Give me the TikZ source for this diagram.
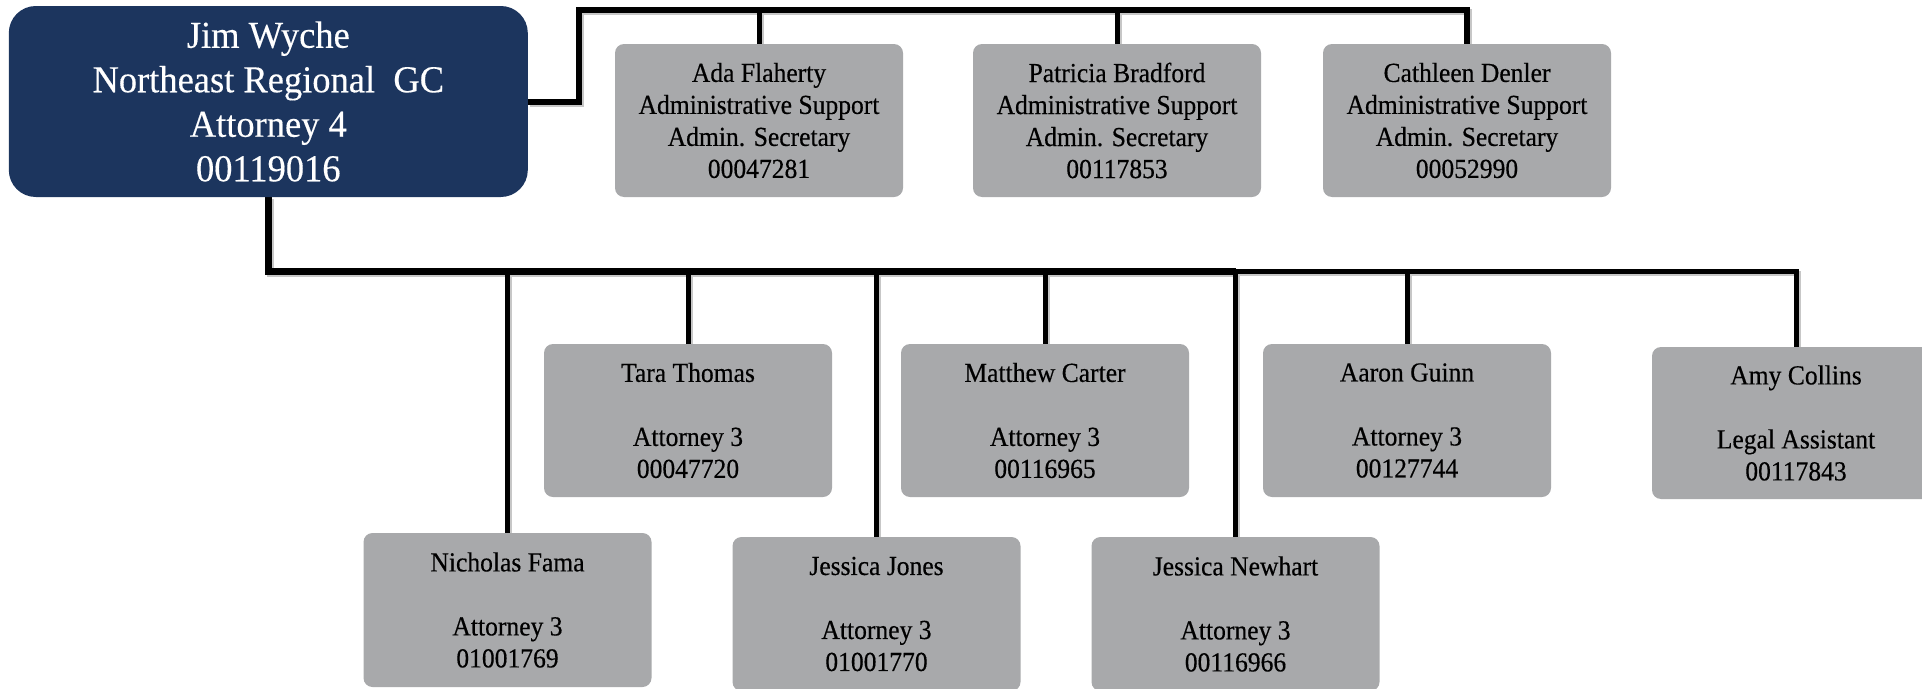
\documentclass[tikz,border=0pt]{standalone}
\usepackage{fontspec}
\setmainfont{Liberation Serif}
\newfontfamily\boxfont[FakeStretch=0.93,FakeBold=0.4]{Liberation Serif}
\newfontfamily\headfont[FakeStretch=0.96,FakeBold=0.3]{Liberation Serif}
\usetikzlibrary{backgrounds}
\definecolor{navy}{HTML}{1C355E}
\definecolor{boxgray}{HTML}{A8A9AB}
\tikzset{
  gbox/.style={fill=boxgray, rounded corners=9pt, minimum width=288pt, minimum height=153pt,
    inner sep=0pt, align=center, font=\boxfont\fontsize{27.5}{32}\selectfont, text=black},
  headbox/.style={fill=navy, rounded corners=27pt, minimum width=519pt, minimum height=191pt,
    inner sep=0pt, align=center, font=\headfont\fontsize{38}{44.5}\selectfont, text=white},
  conn/.style={draw=black, line width=5pt},
  thickconn/.style={draw=black, line width=7pt},
}
\newcommand\drawconns[1]{%
  \draw[conn,#1,line width=6pt] (Jim.east) -| (topc) -| (Cathleen.north);
  \foreach \n in {Ada,Patricia} \draw[conn,#1] (\n.north |- topc) -- (\n.north);
  \draw[thickconn,#1] (Jim.south) |- (Newhart.north |- busc);
  \draw[conn,#1] (Newhart.north |- busc) -| (Amy.north);
  \foreach \n in {Nicholas,Tara,Jones,Matthew,Newhart,Aaron} \draw[conn,#1] (\n.north |- busc) -- (\n.north);
}
\begin{document}
\begin{tikzpicture}[x=1pt,y=-1pt]
\useasboundingbox (0,0) rectangle (1922,688);
\node[headbox] (Jim) at (268.3,101.5) {Jim Wyche\\Northeast Regional\ \ GC\\Attorney 4\\00119016};
\node[gbox] (Ada) at (759,120.5) {Ada Flaherty\\Administrative Support\\Admin. Secretary\\00047281};
\node[gbox] (Patricia) at (1117,120.5) {Patricia Bradford\\Administrative Support\\Admin. Secretary\\00117853};
\node[gbox] (Cathleen) at (1467,120.5) {Cathleen Denler\\Administrative Support\\Admin. Secretary\\00052990};
\node[gbox] (Tara) at (688,420.5) {Tara Thomas\\[32pt]Attorney 3\\00047720};
\node[gbox] (Matthew) at (1045,420.5) {Matthew Carter\\[32pt]Attorney 3\\00116965};
\node[gbox] (Aaron) at (1407,420.5) {Aaron Guinn\\[32pt]Attorney 3\\00127744};
\node[gbox, minimum height=152pt] (Amy) at (1796,423) {Amy Collins\\[32pt]Legal Assistant\\00117843};
\node[gbox, minimum height=154pt] (Nicholas) at (507.5,610) {Nicholas Fama\\[32pt]Attorney 3\\01001769};
\node[gbox, minimum height=154pt] (Jones) at (876.5,614) {Jessica Jones\\[32pt]Attorney 3\\01001770};
\node[gbox, minimum height=154pt] (Newhart) at (1235.5,614) {Jessica Newhart\\[32pt]Attorney 3\\00116966};
\coordinate (topc) at (579,10);
\coordinate (busc) at (269,271);
\begin{scope}[on background layer]
  \begin{scope}[transform canvas={shift={(2pt,-2pt)}}]
    \drawconns{draw=black!22}
  \end{scope}
  \drawconns{}
\end{scope}
\end{tikzpicture}
\end{document}
